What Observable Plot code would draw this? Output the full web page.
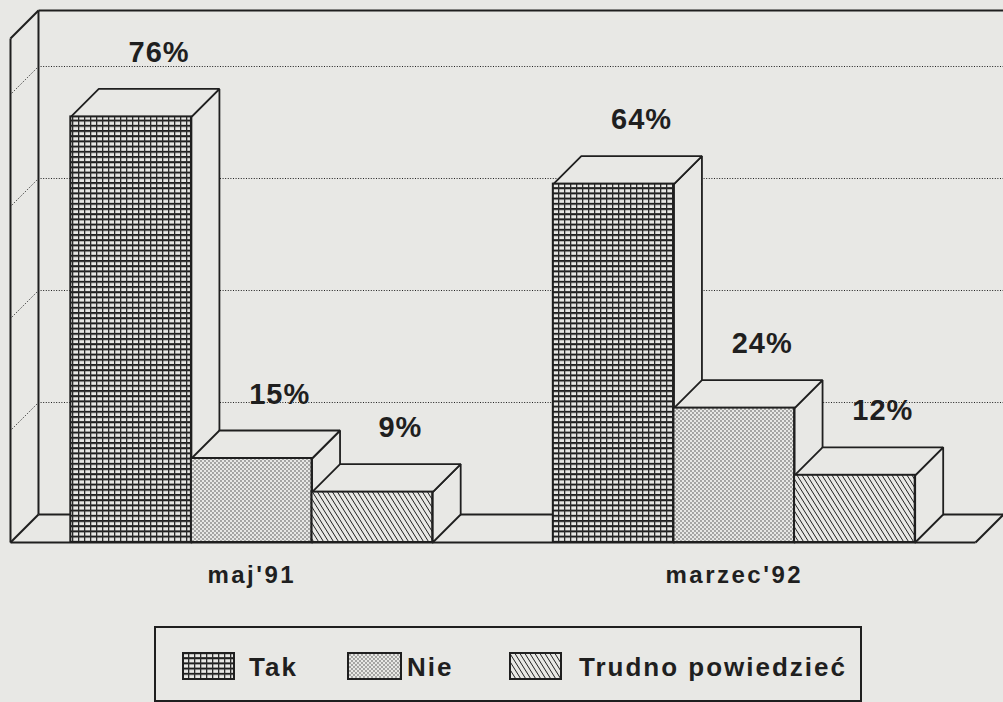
<!DOCTYPE html>
<html>
<head>
<meta charset="utf-8">
<script src="https://cdn.jsdelivr.net/npm/d3@7"></script>
<script src="https://cdn.jsdelivr.net/npm/@observablehq/plot@0.6"></script>
<style>
  html, body { margin: 0; padding: 0; background: #e8e8e5; }
  body { width: 1003px; height: 702px; overflow: hidden; position: relative;
         font-family: "Liberation Sans", Arial, sans-serif; color: #1f1f1f; }
  #chart svg { display: block; }
  #chart svg g[aria-label="text"] text { letter-spacing: 1px; }
  #chart svg g[aria-label="x-axis tick label"] text { font-weight: bold; letter-spacing: 2.5px; }
  #legend { position: absolute; left: 154px; top: 626px; width: 708px; height: 76px;
            box-sizing: border-box; border: 2px solid #1f1f1f; }
  #legend .sw { position: absolute; top: 24px; height: 28px; }
  #legend .lab { position: absolute; top: 26px; font-size: 26px; line-height: 26px;
                 font-weight: bold; letter-spacing: 2px; white-space: nowrap; }
</style>
</head>
<body>
<svg width="0" height="0" style="position:absolute">
  <defs>
    <pattern id="p-tak" patternUnits="userSpaceOnUse" width="6" height="5.2">
      <rect width="6" height="5.2" fill="#e8e8e5"/>
      <rect y="0" width="6" height="2" fill="#1f1f1f"/>
      <rect x="0" width="1.3" height="5.2" fill="#2a2a2a"/>
    </pattern>
    <pattern id="p-nie" patternUnits="userSpaceOnUse" width="4" height="4">
      <rect width="4" height="4" fill="#e8e8e5"/>
      <circle cx="1" cy="1" r="0.65" fill="#2a2a2a"/>
      <circle cx="3" cy="3" r="0.65" fill="#2a2a2a"/>
    </pattern>
    <pattern id="p-trudno" patternUnits="userSpaceOnUse" width="5" height="8">
      <rect width="5" height="8" fill="#e8e8e5"/>
      <path d="M0,0 L5,8 M-5,0 L0,8 M5,0 L10,8" stroke="#1f1f1f" stroke-width="1"/>
    </pattern>
  </defs>
</svg>
<div id="chart"></div>
<div id="legend"></div>
<script>
// ---- data ----
const categories = ["maj'91", "marzec'92"];
const series = ["Tak", "Nie", "Trudno powiedzieć"];
const tak = [76, 64];
const nie = [15, 24];
const trudno = [9, 12];
const gridTicks = [20, 40, 60, 80];
const wallTop = 90;

// ---- styling ----
const ink = "#1f1f1f";
const bg = "#e8e8e5";
const patterns = ["url(#p-tak)", "url(#p-nie)", "url(#p-trudno)"];
const DX = 0.232, DY = 5;      // 3D depth offset (x in bar units, y in % units)
const L = -0.5, R = 7.5;       // floor extent in bar units

const valuesBySeries = [tak, nie, trudno];
const bars = [];
categories.forEach((c, g) => series.forEach((s, i) => {
  bars.push({category: c, series: s, si: i, value: valuesBySeries[i][g], x0: g * 4 + i, x1: g * 4 + i + 1});
}));

const poly = (pts, k) => pts.map(([x, y]) => ({k, x, y}));
const sides = bars.flatMap((b, k) => poly([[b.x1, 0], [b.x1 + DX, DY], [b.x1 + DX, b.value + DY], [b.x1, b.value], [b.x1, 0]], k));
const tops = bars.flatMap((b, k) => poly([[b.x0, b.value], [b.x1, b.value], [b.x1 + DX, b.value + DY], [b.x0 + DX, b.value + DY], [b.x0, b.value]], k));

const wallEdges = [
  {x1: L, y1: 0, x2: L, y2: wallTop},
  {x1: L, y1: wallTop, x2: L + DX, y2: wallTop + DY},
  {x1: L + DX, y1: DY, x2: L + DX, y2: wallTop + DY},
  {x1: L + DX, y1: wallTop + DY, x2: R + DX, y2: wallTop + DY},
  {x1: L, y1: 0, x2: L + DX, y2: DY},
  {x1: L + DX, y1: DY, x2: R + DX, y2: DY},
  {x1: L, y1: 0, x2: R, y2: 0},
  {x1: R, y1: 0, x2: R + DX, y2: DY}
];

const catTicks = categories.map((c, g) => g * 4 + 1.5);

const chart = Plot.plot({
  width: 1003,
  height: 612,
  marginLeft: 10, marginRight: 0, marginTop: 10, marginBottom: 70,
  x: {domain: [L, R + DX], axis: null},
  y: {domain: [0, wallTop + DY], axis: null},
  style: {background: "transparent", fontFamily: "'Liberation Sans', Arial, sans-serif", color: ink, overflow: "visible"},
  marks: [
    Plot.ruleY(gridTicks, {y: d => d + DY, x1: L + DX, x2: R + DX, stroke: ink, strokeWidth: 1, strokeDasharray: "1 1.6"}),
    Plot.link(gridTicks, {x1: L, y1: d => d, x2: L + DX, y2: d => d + DY, stroke: ink, strokeWidth: 1, strokeDasharray: "1 1.6"}),
    Plot.link(wallEdges, {x1: "x1", y1: "y1", x2: "x2", y2: "y2", stroke: ink, strokeWidth: 2}),
    Plot.line(sides, {x: "x", y: "y", z: "k", fill: bg, stroke: ink, strokeWidth: 1.8, strokeLinejoin: "miter"}),
    Plot.line(tops, {x: "x", y: "y", z: "k", fill: bg, stroke: ink, strokeWidth: 1.8, strokeLinejoin: "miter"}),
    ...series.map((s, i) => Plot.rect(bars.filter(b => b.si === i), {
      x1: "x0", x2: "x1", y1: 0, y2: "value", fill: patterns[i], stroke: ink, strokeWidth: 2
    })),
    Plot.text(bars, {
      x: d => d.x0 + 0.5 + DX, y: d => d.value + DY, text: d => d.value + "%",
      lineAnchor: "bottom", dy: -27, fontSize: 29, fontWeight: "bold", fill: ink
    }),
    Plot.axisX(catTicks, {
      tickFormat: d => categories[(d - 1.5) / 4], tickSize: 0, tickPadding: 23,
      fontSize: 24, fontWeight: "bold", label: null, fill: ink
    })
  ]
});
document.getElementById("chart").appendChild(chart);

// ---- legend ----
const legendLayout = [
  {sw: 26, w: 53, lab: 93},
  {sw: 191, w: 55, lab: 251},
  {sw: 353, w: 53, lab: 423}
];
const legend = document.getElementById("legend");
series.forEach((s, i) => {
  const pos = legendLayout[i];
  const sw = document.createElementNS("http://www.w3.org/2000/svg", "svg");
  sw.setAttribute("class", "sw");
  sw.setAttribute("width", pos.w);
  sw.setAttribute("height", 28);
  sw.style.left = pos.sw + "px";
  const r = document.createElementNS("http://www.w3.org/2000/svg", "rect");
  r.setAttribute("x", 1); r.setAttribute("y", 1);
  r.setAttribute("width", pos.w - 2); r.setAttribute("height", 26);
  r.setAttribute("fill", patterns[i]); r.setAttribute("stroke", ink); r.setAttribute("stroke-width", 2);
  sw.appendChild(r);
  legend.appendChild(sw);
  const lab = document.createElement("span");
  lab.className = "lab";
  lab.style.left = pos.lab + "px";
  lab.textContent = s;
  legend.appendChild(lab);
});
</script>
</body>
</html>
